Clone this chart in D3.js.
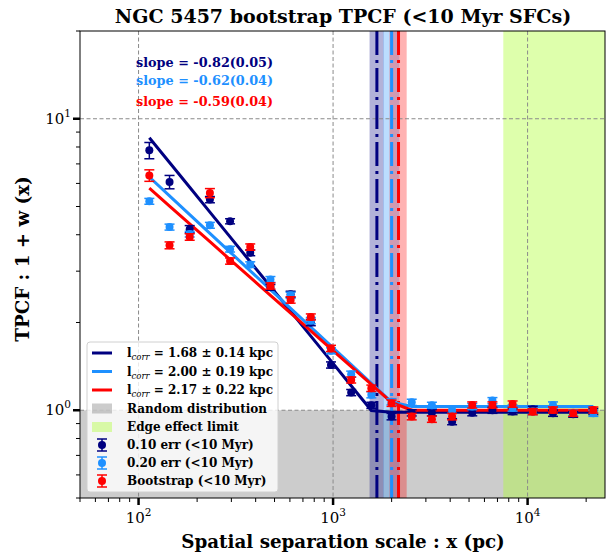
<!DOCTYPE html>
<html>
<head>
<meta charset="utf-8">
<script src="https://cdn.jsdelivr.net/npm/d3@7"></script>
<style>
  body { margin: 0; background: #fff; }
  text { font-family: "DejaVu Serif", serif; }
</style>
</head>
<body>
<svg id="chart" width="612" height="552"></svg>
<script>
// Spatial separation bin centres (pc)
const binCenters = [113.6, 144.3, 183.2, 232.7, 295.4, 375.1, 476.4, 605.0, 768.3, 975.5,
  1239, 1573, 1998, 2537, 3221, 4091, 5194, 6596, 8375, 10635, 13505, 17149, 21777];

// 1 + w(x) for the three estimates
const tpcf010 = [7.79, 6.07, 4.18, 5.28, 4.45, 3.47, 2.64, 2.50, 2.00, 1.43, 1.15, 1.04,
  0.951, 0.98, 0.981, 0.914, 0.981, 1.00, 0.99, 1.008, 0.977, 0.969, 0.99];
const err010 = [0.50, 0.32, 0.12, 0.13, 0.09, 0.08, 0.06, 0.06, 0.05, 0.035, 0.028, 0.025,
  0.024, 0.024, 0.024, 0.022, 0.024, 0.024, 0.024, 0.024, 0.024, 0.023, 0.024];

const tpcf020 = [5.21, 4.25, 4.02, 4.31, 3.57, 3.16, 2.81, 2.48, 2.03, 1.60, 1.33, 1.13,
  1.07, 1.065, 1.04, 1.00, 1.03, 1.079, 1.018, 0.99, 1.043, 0.98, 0.977];
const err020 = [0.12, 0.10, 0.09, 0.10, 0.08, 0.07, 0.065, 0.06, 0.05, 0.038, 0.032, 0.027,
  0.026, 0.026, 0.025, 0.024, 0.025, 0.026, 0.025, 0.024, 0.025, 0.024, 0.024];

const tpcfBoot = [6.39, 3.68, 3.93, 5.56, 3.25, 3.63, 2.67, 2.39, 2.09, 1.63, 1.27, 1.19,
  1.057, 0.951, 0.932, 0.951, 1.043, 1.043, 1.05, 0.989, 1.002, 0.977, 1.002];
const errBoot = [0.29, 0.10, 0.10, 0.20, 0.08, 0.09, 0.065, 0.06, 0.05, 0.04, 0.03, 0.03,
  0.026, 0.024, 0.023, 0.024, 0.025, 0.025, 0.026, 0.024, 0.024, 0.024, 0.024];

// Power-law fits: amplitude at 100 pc, slope, slope error, flat level beyond l_corr
const fitAmp100 = [9.56, 6.83, 6.23];
const fitSlope = [-0.82, -0.62, -0.59];
const fitSlopeErr = [0.05, 0.04, 0.04];
const fitFlat = [0.985, 1.03, 1.00];

// Correlation lengths (kpc)
const lcorr = [1.68, 2.00, 2.17];
const lcorrErr = [0.14, 0.19, 0.22];

const seriesColors = ["#000080", "#1e90ff", "#ff0000"];
const edgeLimit = 7500;      // pc
const randomLevel = 1;

const xTicks = [100, 1000, 10000];
const yTicks = [1, 10];

const W = 612, H = 552;
const L = 80, R = 605, T = 31, B = 498;

const svg = d3.select("#chart");
const x = d3.scaleLog().domain([50, 25000]).range([L, R]);
const y = d3.scaleLog().domain([0.5, 20]).range([B, T]);

const defs = svg.append("defs");
defs.append("clipPath").attr("id", "plotclip")
  .append("rect").attr("x", L).attr("y", T).attr("width", R - L).attr("height", B - T);

const plot = svg.append("g").attr("clip-path", "url(#plotclip)");

// Random distribution region
plot.append("rect")
  .attr("x", L).attr("width", R - L)
  .attr("y", y(randomLevel)).attr("height", B - y(randomLevel))
  .attr("fill", "#808080").attr("fill-opacity", 0.4);

// Edge effect region
plot.append("rect")
  .attr("x", x(edgeLimit)).attr("width", R - x(edgeLimit))
  .attr("y", T).attr("height", B - T)
  .attr("fill", "#adff2f").attr("fill-opacity", 0.4);

// Correlation length bands
lcorr.forEach((l, i) => {
  const lo = (l - lcorrErr[i]) * 1000, hi = (l + lcorrErr[i]) * 1000;
  plot.append("rect")
    .attr("x", x(lo)).attr("width", x(hi) - x(lo))
    .attr("y", T).attr("height", B - T)
    .attr("fill", seriesColors[i]).attr("fill-opacity", 0.3);
});

// Grid lines at major decades
xTicks.forEach(t => {
  plot.append("line").attr("x1", x(t)).attr("x2", x(t)).attr("y1", T).attr("y2", B)
    .attr("stroke", "#8a8a8a").attr("stroke-width", 1).attr("stroke-dasharray", "4,2.5");
});
yTicks.forEach(t => {
  plot.append("line").attr("x1", L).attr("x2", R).attr("y1", y(t)).attr("y2", y(t))
    .attr("stroke", "#8a8a8a").attr("stroke-width", 1).attr("stroke-dasharray", "4,2.5");
});

// Correlation length lines
lcorr.forEach((l, i) => {
  plot.append("line")
    .attr("x1", x(l * 1000)).attr("x2", x(l * 1000)).attr("y1", T).attr("y2", B)
    .attr("stroke", seriesColors[i]).attr("stroke-width", 3)
    .attr("stroke-dasharray", "24,5,3,5");
});

// Fit lines evaluated at the bin centres
const fitLine = d3.line().x(d => x(d[0])).y(d => y(d[1]));
fitAmp100.forEach((a, i) => {
  const pts = binCenters.map(b => [b, b < lcorr[i] * 1000 ? a * Math.pow(b / 100, fitSlope[i]) : fitFlat[i]]);
  plot.append("path").datum(pts).attr("d", fitLine)
    .attr("fill", "none").attr("stroke", seriesColors[i]).attr("stroke-width", 3);
});

// Error bar points
function drawErrorbars(vals, errs, color) {
  const g = plot.append("g");
  vals.forEach((v, j) => {
    const cx = x(binCenters[j]);
    const y0 = y(v - errs[j]), y1 = y(v + errs[j]);
    g.append("line").attr("x1", cx).attr("x2", cx).attr("y1", y0).attr("y2", y1)
      .attr("stroke", color).attr("stroke-width", 1.5);
    [y0, y1].forEach(yy => g.append("line")
      .attr("x1", cx - 5).attr("x2", cx + 5).attr("y1", yy).attr("y2", yy)
      .attr("stroke", color).attr("stroke-width", 1.5));
    g.append("circle").attr("cx", cx).attr("cy", y(v)).attr("r", 4).attr("fill", color);
  });
}
drawErrorbars(tpcf010, err010, seriesColors[0]);
drawErrorbars(tpcf020, err020, seriesColors[1]);
drawErrorbars(tpcfBoot, errBoot, seriesColors[2]);

// Slope annotations
const slopeY = [63, 81, 102];
fitSlope.forEach((s, i) => {
  svg.append("text").attr("x", 136).attr("y", slopeY[i]).attr("dy", "0.35em")
    .attr("font-size", 12.8).attr("font-weight", "bold").attr("fill", seriesColors[i])
    .text(`slope = ${s.toFixed(2)}(${fitSlopeErr[i].toFixed(2)})`);
});

// Frame
svg.append("rect").attr("x", L).attr("y", T).attr("width", R - L).attr("height", B - T)
  .attr("fill", "none").attr("stroke", "#000").attr("stroke-width", 1);

// Ticks
const ax = svg.append("g");
function minorTicks(domain) {
  const out = [];
  for (let e = -1; e <= 5; e++) for (let m = 2; m <= 9; m++) {
    const v = m * Math.pow(10, e);
    if (v >= domain[0] && v <= domain[1]) out.push(v);
  }
  return out;
}
minorTicks(x.domain()).forEach(t => ax.append("line")
  .attr("x1", x(t)).attr("x2", x(t)).attr("y1", B).attr("y2", B + 4)
  .attr("stroke", "#000").attr("stroke-width", 1));
minorTicks(y.domain()).forEach(t => ax.append("line")
  .attr("x1", L).attr("x2", L - 4).attr("y1", y(t)).attr("y2", y(t))
  .attr("stroke", "#000").attr("stroke-width", 1));
xTicks.forEach(t => {
  ax.append("line").attr("x1", x(t)).attr("x2", x(t)).attr("y1", B).attr("y2", B + 7)
    .attr("stroke", "#000").attr("stroke-width", 2.5);
  const tx = ax.append("text").attr("x", x(t)).attr("y", 523).attr("text-anchor", "middle")
    .attr("font-size", 15);
  tx.append("tspan").text("10");
  tx.append("tspan").attr("font-size", 10.5).attr("dy", -7).text(Math.round(Math.log10(t)));
});
yTicks.forEach(t => {
  ax.append("line").attr("x1", L).attr("x2", L - 7).attr("y1", y(t)).attr("y2", y(t))
    .attr("stroke", "#000").attr("stroke-width", 2.5);
  const tx = ax.append("text").attr("x", 71).attr("y", y(t) + 5).attr("text-anchor", "end")
    .attr("font-size", 15);
  tx.append("tspan").text("10");
  tx.append("tspan").attr("font-size", 10.5).attr("dy", -7).text(Math.round(Math.log10(t)));
});

// Title and axis labels
svg.append("text").attr("x", 343).attr("y", 23).attr("text-anchor", "middle")
  .attr("font-size", 19).attr("font-weight", "bold")
  .text("NGC 5457 bootstrap TPCF (<10 Myr SFCs)");
svg.append("text").attr("x", 343).attr("y", 548).attr("text-anchor", "middle")
  .attr("font-size", 18.3).attr("font-weight", "bold")
  .text("Spatial separation scale : x (pc)");
svg.append("text").attr("transform", "translate(29,259) rotate(-90)").attr("text-anchor", "middle")
  .attr("font-size", 18.3).attr("font-weight", "bold")
  .text("TPCF : 1 + w (x)");

// Legend
const lg = svg.append("g");
lg.append("rect").attr("x", 87).attr("y", 342).attr("width", 191).attr("height", 150)
  .attr("rx", 3).attr("fill", "#fff").attr("fill-opacity", 0.8)
  .attr("stroke", "#d0d0d0").attr("stroke-width", 1);
const rowY = [353, 371.5, 390, 408.5, 427, 445, 463, 481];
const hx0 = 92, hx1 = 112, tx0 = 127;
function legendLabel(yy) {
  return lg.append("text").attr("x", tx0).attr("y", yy).attr("dy", "0.35em")
    .attr("font-size", 12).attr("font-weight", "bold");
}
lcorr.forEach((l, i) => {
  lg.append("line").attr("x1", hx0).attr("x2", hx1).attr("y1", rowY[i]).attr("y2", rowY[i])
    .attr("stroke", seriesColors[i]).attr("stroke-width", 3);
  const t = legendLabel(rowY[i]);
  t.append("tspan").text("l");
  t.append("tspan").attr("font-size", 8.5).attr("font-style", "italic").attr("font-weight", "normal")
    .attr("dy", 3).text("corr");
  t.append("tspan").attr("dy", -3).text(` = ${l.toFixed(2)} \u00b1 ${lcorrErr[i].toFixed(2)} kpc`);
});
lg.append("rect").attr("x", hx0).attr("y", rowY[3] - 5).attr("width", 20).attr("height", 10)
  .attr("fill", "#808080").attr("fill-opacity", 0.4);
legendLabel(rowY[3]).text("Random distribution");
lg.append("rect").attr("x", hx0).attr("y", rowY[4] - 5).attr("width", 20).attr("height", 10)
  .attr("fill", "#adff2f").attr("fill-opacity", 0.4);
legendLabel(rowY[4]).text("Edge effect limit");
const ebLabels = ["0.10 err (<10 Myr)", "0.20 err (<10 Myr)", "Bootstrap (<10 Myr)"];
ebLabels.forEach((s, i) => {
  const yy = rowY[5 + i], cx = (hx0 + hx1) / 2, c = seriesColors[i];
  lg.append("line").attr("x1", cx).attr("x2", cx).attr("y1", yy - 6).attr("y2", yy + 6)
    .attr("stroke", c).attr("stroke-width", 1.5);
  [yy - 6, yy + 6].forEach(v => lg.append("line").attr("x1", cx - 5).attr("x2", cx + 5)
    .attr("y1", v).attr("y2", v).attr("stroke", c).attr("stroke-width", 1.5));
  lg.append("circle").attr("cx", cx).attr("cy", yy).attr("r", 4).attr("fill", c);
  legendLabel(yy).text(s);
});
</script>
</body>
</html>
